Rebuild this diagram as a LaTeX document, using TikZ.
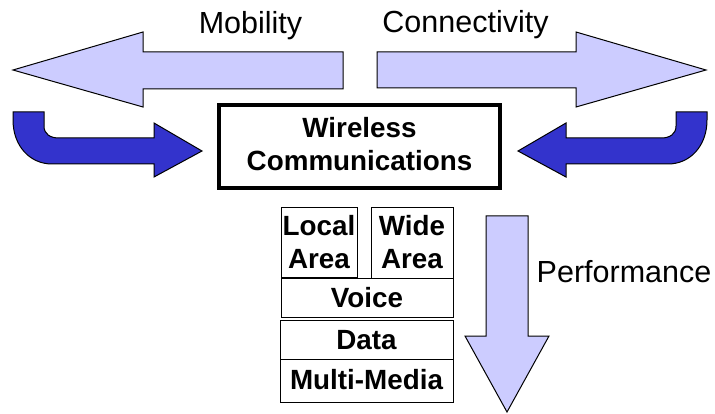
\documentclass[tikz,border=0pt]{standalone}
\usepackage{fontspec}
\setmainfont{Liberation Sans}
\definecolor{lav}{HTML}{CCCCFF}
\definecolor{deepblue}{HTML}{3333CC}
\begin{document}
\begin{tikzpicture}[x=1pt,y=-1pt,
  bigarrow/.style={draw=black,line width=1pt,fill=lav,line join=miter},
  bentarrow/.style={draw=black,line width=1pt,fill=deepblue,line join=miter},
  lbl/.style={font=\fontsize{30.5}{33}\selectfont,anchor=base,inner sep=0pt},
  cell/.style={draw=black,line width=0.9pt,inner sep=0pt,align=center,
    font=\fontsize{27.8}{33}\selectfont\bfseries}]
\useasboundingbox (0,0) rectangle (715,414);

% horizontal arrows
\draw[bigarrow] (13,70) -- (143,32) -- (143,52) -- (343,52) -- (343,89)
  -- (143,89) -- (143,107) -- cycle;
\draw[bigarrow] (706,70) -- (576,32) -- (576,52) -- (377,52) -- (377,88)
  -- (576,88) -- (576,107) -- cycle;
\node[lbl] (mob) at (250.5,34) {Mobility};
\node[lbl] (con) at (465.5,33) {Connectivity};

% bent arrows feeding the central box
\draw[bentarrow] (13,112) -- (44,112) -- (44,126)
  .. controls (44,134) and (50,138) .. (59,138) -- (154,138) -- (154,123)
  -- (202,151) -- (154,177) -- (154,164) -- (52,164)
  .. controls (30,164) and (13,146) .. (13,120) -- cycle;
\draw[bentarrow] (707,112) -- (676,112) -- (676,126)
  .. controls (676,134) and (670,138) .. (661,138) -- (566,138) -- (566,123)
  -- (518,151) -- (566,177) -- (566,164) -- (668,164)
  .. controls (690,164) and (707,146) .. (707,120) -- cycle;

% central box
\node[draw=black,line width=4pt,minimum width=281pt,minimum height=83pt,
  inner sep=0pt,align=center,text depth=5.5pt,
  font=\fontsize{27.8}{33}\selectfont\bfseries] (wc) at (359.5,146.5)
  {Wireless\\Communications};

% stack of areas and services
\node[cell,minimum width=76pt,minimum height=70pt] (local) at (319,242) {Local\\Area};
\node[cell,minimum width=82pt,minimum height=71pt] (wide) at (412,242.5) {Wide\\Area};
\node[cell,minimum width=172pt,minimum height=39pt,text height=19.9pt,text depth=0pt] (voice) at (367,297.5) {Voice};
\node[cell,minimum width=173pt,minimum height=39pt,text height=19.9pt,text depth=0pt] (data) at (366.5,339.5) {Data};
\node[cell,minimum width=173pt,minimum height=43pt,text height=19.9pt,text depth=1.5pt] (mm) at (366.5,380.5) {Multi-Media};

% downward arrow
\draw[bigarrow] (486,216) -- (528,216) -- (528,336) -- (549,336) -- (507,412)
  -- (465,336) -- (486,336) -- cycle;
\node[lbl] (perf) at (624,283) {Performance};
\end{tikzpicture}
\end{document}
